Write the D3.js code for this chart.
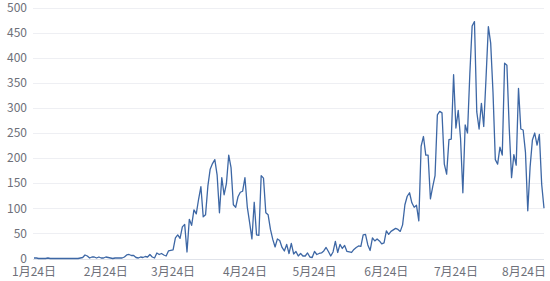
<!DOCTYPE html>
<html>
<head>
<meta charset="utf-8">
<script src="https://cdn.jsdelivr.net/npm/d3@7"></script>
<style>
  body { margin: 0; background: #fff; }
  svg { display: block; }
</style>
</head>
<body>
<svg id="chart" width="550" height="281"></svg>
<script>
// daily values, first point is 2020-01-24
const startDate = "2020-01-24";
const casesJan = [1, 1, 0, 0, 0, 0, 1, 0];
const casesFeb = [0, 0, 0, 0, 0, 0, 0, 0, 0, 0, 0, 0, 1, 2, 7, 5, 1, 3, 3, 1, 3, 1, 1, 3, 2, 1, 0, 1, 1];
const casesMar = [1, 1, 3, 7, 8, 6, 6, 2, 1, 3, 2, 4, 3, 8, 3, 1, 11, 8, 10, 7, 5, 15, 16, 17, 41, 47, 40, 63, 68, 13, 78];
const casesApr = [66, 97, 89, 118, 143, 83, 87, 144, 178, 189, 197, 166, 91, 161, 127, 149, 206, 181, 107, 102, 123, 132, 134, 161, 103, 72, 39, 112, 47, 46];
const casesMay = [165, 160, 91, 87, 58, 38, 23, 39, 36, 22, 15, 28, 10, 30, 9, 14, 5, 10, 5, 5, 11, 3, 2, 14, 8, 10, 11, 15, 22, 14, 5];
const casesJun = [13, 34, 12, 28, 20, 26, 14, 13, 12, 18, 22, 25, 24, 47, 48, 27, 16, 41, 35, 39, 35, 29, 31, 55, 48, 54, 57, 60, 58, 54];
const casesJul = [67, 107, 124, 131, 111, 102, 106, 75, 224, 243, 206, 206, 119, 143, 165, 286, 293, 290, 188, 168, 237, 238, 366, 260, 295, 239, 131, 266, 250, 367, 463];
const casesAug = [472, 292, 258, 309, 263, 360, 462, 429, 331, 197, 188, 222, 206, 389, 385, 260, 161, 207, 186, 339, 258, 256, 212, 95, 182, 236, 250, 226, 247, 148, 100];

const tickDates = ["2020-01-24", "2020-02-24", "2020-03-24", "2020-04-24", "2020-05-24", "2020-06-24", "2020-07-24", "2020-08-24"];
const tickLabels = ["1月24日", "2月24日", "3月24日", "4月24日", "5月24日", "6月24日", "7月24日", "8月24日"];
const yTicks = [0, 50, 100, 150, 200, 250, 300, 350, 400, 450, 500];

const parse = d3.timeParse("%Y-%m-%d");
const values = [].concat(casesJan, casesFeb, casesMar, casesApr, casesMay, casesJun, casesJul, casesAug);
const t0 = parse(startDate);
const data = values.map((v, i) => ({ date: d3.timeDay.offset(t0, i), value: v }));

const svg = d3.select("#chart");
const plotLeft = 34, plotRight = 544, plotTop = 7.5, plotBottom = 258.5;
const font = "'Noto Sans CJK JP', 'Noto Sans', sans-serif";
const textColor = "#6e7079";

const x = d3.scaleTime()
  .domain(d3.extent(data, d => d.date))
  .range([plotLeft, plotRight]);
const y = d3.scaleLinear().domain([0, 500]).range([plotBottom, plotTop]);

// horizontal grid lines
svg.append("g")
  .selectAll("line")
  .data(yTicks)
  .enter()
  .append("line")
  .attr("x1", plotLeft - 1)
  .attr("x2", plotRight)
  .attr("y1", d => Math.round(y(d)) + 0.5)
  .attr("y2", d => Math.round(y(d)) + 0.5)
  .attr("stroke", d => d === 0 ? "#e0e3ea" : "#eeeff3")
  .attr("stroke-width", 1);

// y labels
svg.append("g")
  .selectAll("text")
  .data(yTicks)
  .enter()
  .append("text")
  .attr("x", 27)
  .attr("y", d => y(d))
  .attr("dy", "0.35em")
  .attr("text-anchor", "end")
  .attr("fill", textColor)
  .style("font-family", font)
  .style("font-size", "12px")
  .text(d => d);

// x labels
const xl = svg.append("g")
  .selectAll("text")
  .data(tickDates)
  .enter()
  .append("text")
  .attr("x", d => x(parse(d)))
  .attr("y", 272)
  .attr("dy", "0.35em")
  .attr("text-anchor", "middle")
  .attr("fill", textColor)
  .style("font-family", font)
  .style("font-size", "12px")
  .text((d, i) => tickLabels[i]);

// keep the last label inside the page
xl.each(function () {
  const w = this.getComputedTextLength();
  const cx = +d3.select(this).attr("x");
  if (cx + w / 2 > 546) d3.select(this).attr("x", 546 - w / 2);
});

// the line
const line = d3.line()
  .x(d => x(d.date))
  .y(d => y(d.value));

svg.append("path")
  .datum(data)
  .attr("d", line)
  .attr("fill", "none")
  .attr("stroke", "#3d67a5")
  .attr("stroke-width", 1.3)
  .attr("stroke-linejoin", "round");
</script>
</body>
</html>
